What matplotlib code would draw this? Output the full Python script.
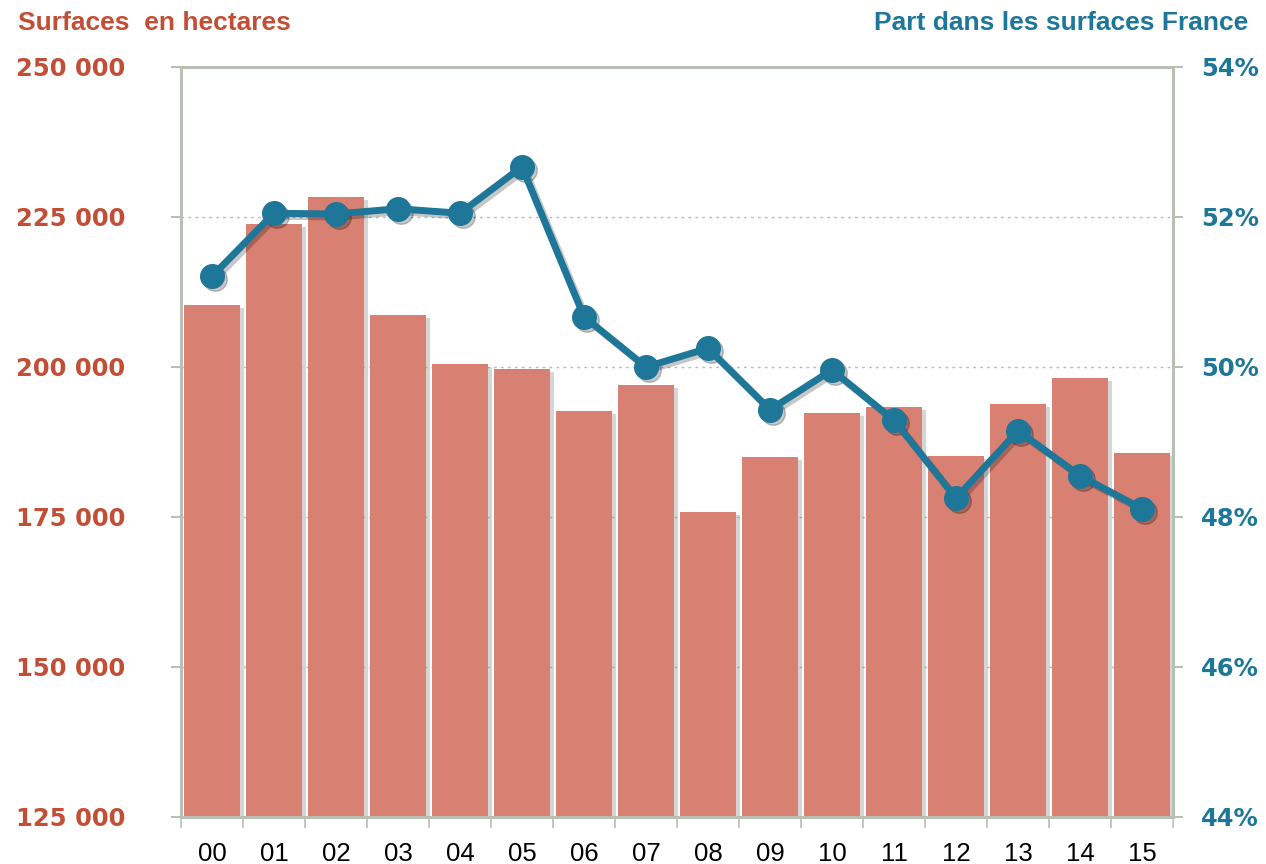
import matplotlib
matplotlib.use("Agg")
import matplotlib.pyplot as plt
import matplotlib.patheffects as pe
from matplotlib.transforms import offset_copy
import numpy as np

years = ["00", "01", "02", "03", "04", "05", "06", "07", "08", "09", "10", "11", "12", "13", "14", "15"]
surfaces = [210300, 223800, 228300, 208700, 200500, 199700, 192700, 197000, 175800, 185000,
            192300, 193300, 185200, 193800, 198200, 185700]
part = [51.21, 52.05, 52.04, 52.11, 52.05, 52.67, 50.67, 50.0, 50.25, 49.43,
        49.96, 49.29, 48.25, 49.15, 48.55, 48.11]
left_ticks = [125000, 150000, 175000, 200000, 225000, 250000]
left_labels = ["125 000", "150 000", "175 000", "200 000", "225 000", "250 000"]
right_ticks = [44, 46, 48, 50, 52, 54]
right_labels = ["44%", "46%", "48%", "50%", "52%", "54%"]

RED = "#C24E36"
BAR = "#D88072"
BLUE = "#1E7799"
SPINE = "#B9C0B3"

fig = plt.figure(figsize=(12.66, 8.64), dpi=100)
ax = fig.add_axes([181/1266, 1-817/864, (1173-181)/1266, (817-67)/864])
x = np.arange(len(years))
shadow = [pe.SimplePatchShadow(offset=(3, -2), shadow_rgbFace="#888888", alpha=0.35), pe.Normal()]
bars = ax.bar(x, surfaces, width=0.9, color=BAR, zorder=2, bottom=0)
for b in bars:
    b.set_path_effects(shadow)
ax.set_ylim(125000, 250000)
ax.set_xlim(-0.5, len(years) - 0.5)
ax.set_yticks(left_ticks)
ax.set_yticklabels(left_labels)
for t in ax.get_yticklabels():
    t.set_color(RED); t.set_fontweight("bold"); t.set_fontsize(17.5); t.set_family("DejaVu Sans")
ax.tick_params(axis="y", length=7, width=1.5, color=SPINE, pad=33)
ax.set_xticks(x)
ax.set_xticklabels(years, fontsize=18.5, family="Liberation Sans")
ax.set_xticks(np.arange(-0.5, len(years)), minor=True)
ax.tick_params(axis="x", which="major", length=0, pad=18)
ax.tick_params(axis="x", which="minor", length=8, width=1.2, color=SPINE)
for yv in left_ticks[1:-1]:
    ax.axhline(yv, color="#BBBBBB", linestyle=(0, (2, 3)), linewidth=1, zorder=1)
for s in ax.spines.values():
    s.set_color(SPINE); s.set_linewidth(2)

ax2 = ax.twinx()
ax2.set_ylim(44, 54)
shadow_tr = offset_copy(ax2.transData, fig=fig, x=3, y=-3, units="dots")
ax2.plot(x, part, color="#000000", alpha=0.22, linewidth=5, marker="o", markersize=17,
         zorder=2.5, transform=shadow_tr)
ax2.plot(x, part, color=BLUE, linewidth=5, marker="o", markersize=17, zorder=3)
ax2.set_yticks(right_ticks)
ax2.set_yticklabels(right_labels)
for t in ax2.get_yticklabels():
    t.set_color(BLUE); t.set_fontweight("bold"); t.set_fontsize(17.5); t.set_family("DejaVu Sans")
ax2.tick_params(axis="y", length=7, width=1.5, color=SPINE, pad=13)
for s in ax2.spines.values():
    s.set_color(SPINE); s.set_linewidth(2)

fig.text(18/1266, 1-23/864, "Surfaces  en hectares", color=RED, fontsize=19, fontweight="bold",
         family="Liberation Sans", va="center", ha="left")
fig.text(1248/1266, 1-23/864, "Part dans les surfaces France", color=BLUE, fontsize=19, fontweight="bold",
         family="Liberation Sans", va="center", ha="right")

fig.savefig("out.png", dpi=100)
